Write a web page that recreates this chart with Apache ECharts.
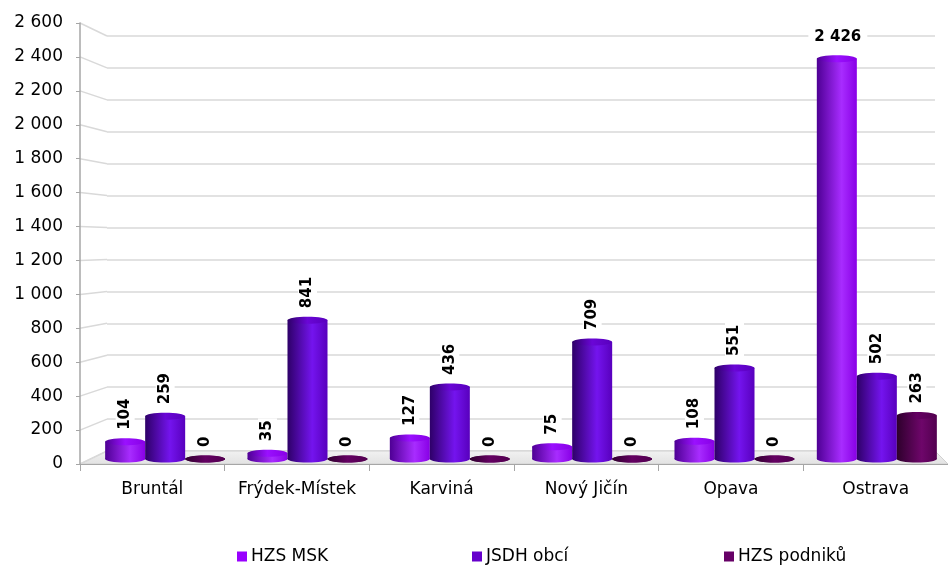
<!DOCTYPE html>
<html>
<head>
<meta charset="utf-8">
<script src="https://cdn.jsdelivr.net/npm/echarts@6/dist/echarts.min.js"></script>
<style>
html,body{margin:0;padding:0;background:#fff;}
#chart{width:948px;height:567px;}
</style>
</head>
<body>
<div id="chart"></div>
<script>
var CATEGORIES = ['Bruntál', 'Frýdek-Místek', 'Karviná', 'Nový Jičín', 'Opava', 'Ostrava'];
var SERIES_NAMES = ['HZS MSK', 'JSDH obcí', 'HZS podniků'];
var HZS_MSK = [104, 35, 127, 75, 108, 2426];
var JSDH_OBCI = [259, 841, 436, 709, 551, 502];
var HZS_PODNIKU = [0, 0, 0, 0, 0, 263];
var Y_TICKS = [0, 200, 400, 600, 800, 1000, 1200, 1400, 1600, 1800, 2000, 2200, 2400, 2600];

var SERIES_VALUES = [HZS_MSK, JSDH_OBCI, HZS_PODNIKU];
var PALETTE = [
  {base: '#9900ff', dark: '#4e0094', bright: '#a82cff', right: '#8800e6', top: '#9a10ff'},
  {base: '#6600cc', dark: '#2e0068', bright: '#7414ee', right: '#5800bd', top: '#6a06d6'},
  {base: '#660066', dark: '#2e002c', bright: '#6e066a', right: '#52004f', top: '#640062'}
];

var FONT = '"DejaVu Sans", sans-serif';
var Y_MIN = Y_TICKS[0], Y_MAX = Y_TICKS[Y_TICKS.length - 1], Y_STEP = Y_TICKS[1] - Y_TICKS[0];

function fmt(v) { return String(v).replace(/\B(?=(\d{3})+(?!\d))/g, ' '); }

var FRONT = {left: 80, top: 23, width: 879, height: 441};
var BACK = {left: 107, top: 36, width: 828, height: 415};
var BARS = {left: 94, top: 30, width: 854, height: 429};
var BAR_FRAC = 40 / 142.3;

function makeRender(si) {
  var p = PALETTE[si];
  return function (params, api) {
    var cat = api.value(0), v = api.value(1);
    var base = api.coord([cat, 0]);
    var top = api.coord([cat, v]);
    var catW = api.size([1, 0])[0];
    var bw = catW * BAR_FRAC;
    var cx = base[0] + (si - 1) * bw;
    var x0 = cx - bw / 2;
    var ry = 3.5;
    var grad = new echarts.graphic.LinearGradient(0, 0, 1, 0, [
      {offset: 0, color: p.dark},
      {offset: 0.62, color: p.bright},
      {offset: 1, color: p.right}
    ]);
    var topGrad = new echarts.graphic.LinearGradient(0, 0, 1, 0, [
      {offset: 0, color: p.dark},
      {offset: 0.5, color: p.top},
      {offset: 1, color: p.right}
    ]);
    var children = [
      {type: 'ellipse', shape: {cx: cx, cy: base[1], rx: bw / 2, ry: ry}, style: {fill: grad}},
      {type: 'rect', shape: {x: x0, y: top[1], width: bw, height: Math.max(0, base[1] - top[1])}, style: {fill: grad}},
      {type: 'ellipse', shape: {cx: cx, cy: top[1], rx: bw / 2, ry: ry}, style: {fill: topGrad}}
    ];
    var label = fmt(v);
    if (v > 2000) {
      children.push({type: 'text', x: cx + 1, y: top[1] - 13, z2: 10,
        style: {text: label, font: 'bold 15px ' + FONT, fill: '#000', align: 'center', verticalAlign: 'bottom',
          backgroundColor: '#fff', padding: [1, 6]}});
    } else {
      children.push({type: 'text', x: cx, y: top[1] - 10, rotation: Math.PI / 2, z2: 10,
        style: {text: label, font: 'bold 15px ' + FONT, fill: '#000', align: 'left', verticalAlign: 'middle',
          backgroundColor: '#fff', padding: [2, 2]}});
    }
    return {type: 'group', children: children};
  };
}

var chart = echarts.init(document.getElementById('chart'), null, {renderer: 'canvas'});

var series = SERIES_VALUES.map(function (vals, si) {
  return {
    type: 'custom',
    name: SERIES_NAMES[si],
    xAxisIndex: 2, yAxisIndex: 2,
    itemStyle: {color: PALETTE[si].base},
    encode: {x: 0, y: 1},
    clip: false,
    z: 5,
    renderItem: makeRender(si),
    data: vals.map(function (v, i) { return [i, v]; })
  };
});

var legendLefts = [237, 472, 724];
var legends = SERIES_NAMES.map(function (n, i) {
  return {
    data: [{name: n, icon: 'rect'}],
    left: legendLefts[i], top: 548, padding: 0,
    itemWidth: 10, itemHeight: 10,
    textStyle: {fontFamily: FONT, fontSize: 17, color: '#000', padding: [0, 0, 0, -1]}
  };
});

var option = {
  animation: false,
  backgroundColor: '#fff',
  legend: legends,
  grid: [
    {left: FRONT.left, top: FRONT.top, width: FRONT.width, height: FRONT.height},
    {left: BACK.left, top: BACK.top, width: BACK.width, height: BACK.height},
    {left: BARS.left, top: BARS.top, width: BARS.width, height: BARS.height}
  ],
  xAxis: [
    {type: 'category', gridIndex: 0, data: CATEGORIES, boundaryGap: true,
      axisLine: {show: true, lineStyle: {color: '#a6a6a6', width: 1}},
      axisTick: {show: true, length: 7, interval: 0, lineStyle: {color: '#a6a6a6'}},
      axisLabel: {interval: 0, margin: 17, fontFamily: FONT, fontSize: 17, color: '#000'}},
    {type: 'category', gridIndex: 1, data: CATEGORIES, show: false},
    {type: 'category', gridIndex: 2, data: CATEGORIES, show: false}
  ],
  yAxis: [
    {type: 'value', gridIndex: 0, min: Y_MIN, max: Y_MAX, interval: Y_STEP,
      axisLine: {show: true, lineStyle: {color: '#a6a6a6', width: 1.5}},
      axisTick: {show: true, length: 4, lineStyle: {color: '#a6a6a6'}},
      splitLine: {show: false},
      axisLabel: {margin: 17, fontFamily: FONT, fontSize: 17, color: '#000', formatter: function (v) { return fmt(v); }}},
    {type: 'value', gridIndex: 1, min: Y_MIN, max: Y_MAX, interval: Y_STEP,
      axisLine: {show: false}, axisTick: {show: false}, axisLabel: {show: false},
      splitLine: {show: true, lineStyle: {color: '#d9d9d9', width: 1.5}}},
    {type: 'value', gridIndex: 2, min: Y_MIN, max: Y_MAX, interval: Y_STEP, show: false,
      splitLine: {show: false}}
  ],
  series: series
};
chart.setOption(option);

// 3D wall decorations derived from the axes' own scales
var graphics = [];
var yf0 = chart.convertToPixel({yAxisIndex: 0}, Y_MIN);
var yb0 = chart.convertToPixel({yAxisIndex: 1}, Y_MIN);
graphics.push({
  type: 'polygon', z: 0, silent: true,
  shape: {points: [[FRONT.left, yf0], [BACK.left, yb0], [BACK.left + BACK.width, yb0], [948, yf0]]},
  style: {fill: new echarts.graphic.LinearGradient(0, 0, 0, 1, [
    {offset: 0, color: '#f2f2f2'}, {offset: 1, color: '#e2e2e2'}]), stroke: '#d0d0d0', lineWidth: 1}
});
Y_TICKS.forEach(function (v) {
  var yf = chart.convertToPixel({yAxisIndex: 0}, v);
  var yb = chart.convertToPixel({yAxisIndex: 1}, v);
  graphics.push({type: 'line', z: 0, silent: true,
    shape: {x1: FRONT.left, y1: yf, x2: BACK.left, y2: yb},
    style: {stroke: '#d9d9d9', lineWidth: 1.5}});
});
chart.setOption({graphic: graphics});
</script>
</body>
</html>
